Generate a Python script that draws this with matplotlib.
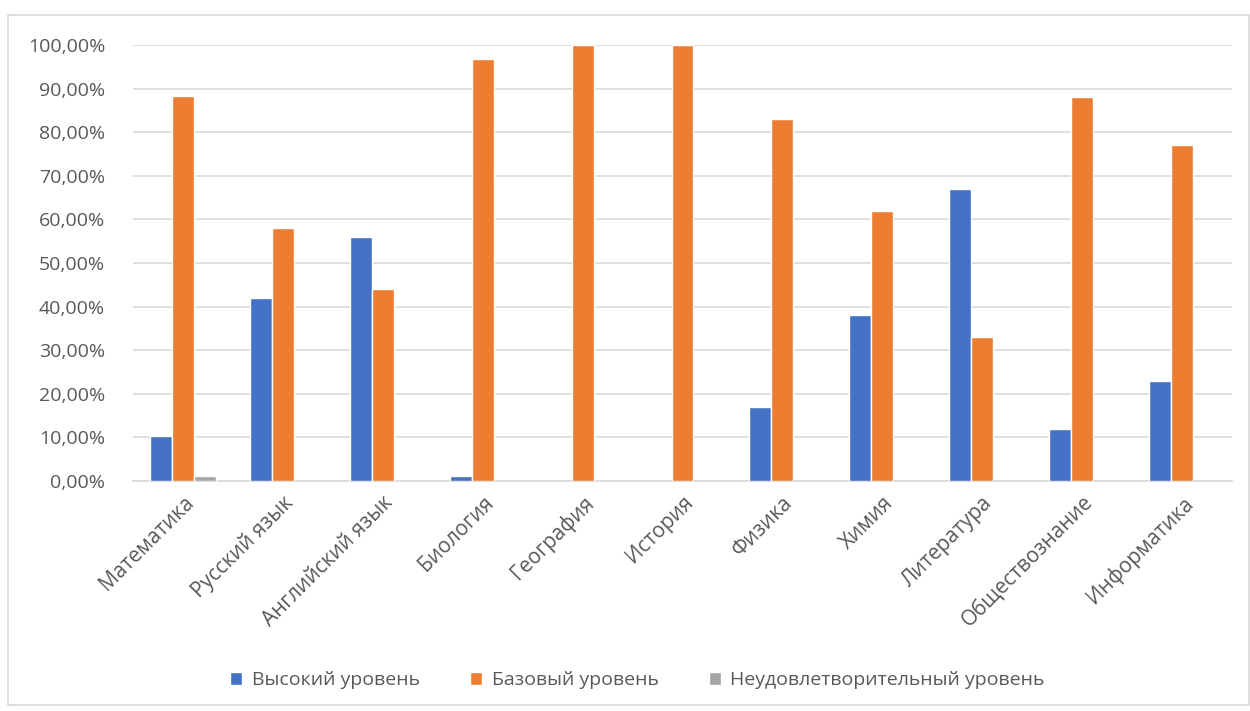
import numpy as np
import matplotlib
matplotlib.use('Agg')
import matplotlib.pyplot as plt
from matplotlib.patches import Rectangle
from matplotlib.ticker import FuncFormatter

plt.rcParams['font.family'] = ['Open Sans', 'DejaVu Sans']

subjects = ['Математика', 'Русский язык', 'Английский язык', 'Биология', 'География',
            'История', 'Физика', 'Химия', 'Литература', 'Обществознание', 'Информатика']
high = [10.3, 42, 56, 1.2, 0, 0, 17, 38, 67, 12, 23]
base = [88.3, 58, 44, 96.8, 100, 100, 83, 62, 33, 88, 77]
fail = [1.2, 0, 0, 0, 0, 0, 0, 0, 0, 0, 0]
series_names = ['Высокий уровень', 'Базовый уровень', 'Неудовлетворительный уровень']
colors = ['#4472C4', '#ED7D31', '#A5A5A5']

fig = plt.figure(figsize=(12.5, 7.11), dpi=100)
ax = fig.add_axes([133 / 1250, 0.3235, 1099 / 1250, 0.6132])

# outer chart border
fig.patches.append(Rectangle((8 / 1250, 6 / 711), 1 - 9 / 1250, 1 - 21 / 711,
                             transform=fig.transFigure, fill=False,
                             edgecolor='#D9D9D9', linewidth=1.2))

x = np.arange(len(subjects))
w = 0.22
for i, (vals, name, c) in enumerate(zip([high, base, fail], series_names, colors)):
    v = np.array(vals) / 100
    bars = ax.bar(x + (i - 1) * w, v, width=w, color=c,
                  edgecolor='white', linewidth=1.0, label=name, zorder=3)
    for b, val in zip(bars, v):
        if val == 0:
            b.set_visible(False)

ax.set_xlim(-0.5, len(subjects) - 0.5)
ax.set_ylim(0, 1.0)
ax.set_yticks(np.arange(0, 1.01, 0.1))
ax.yaxis.set_major_formatter(FuncFormatter(lambda v, p: f'{v * 100:.2f}%'.replace('.', ',')))
ax.grid(axis='y', color='#D9D9D9', linewidth=1.2, zorder=0)
for s in ['top', 'right', 'left']:
    ax.spines[s].set_visible(False)
ax.spines['bottom'].set_color('#D9D9D9')
ax.spines['bottom'].set_linewidth(1.2)
ax.tick_params(axis='both', length=0, labelsize=14, colors='#595959', pad=8)
ax.tick_params(axis='y', pad=20)
ax.tick_params(axis='x', labelsize=15)
ax.set_xticks(x)
ax.set_xticklabels(subjects, rotation=45, ha='right', rotation_mode='anchor')

leg = fig.legend(loc='center', bbox_to_anchor=(0.51, 0.043), ncol=3, frameon=False,
                 fontsize=14, handlelength=0.6, handleheight=0.7, columnspacing=2.6,
                 handletextpad=0.5)
for t in leg.get_texts():
    t.set_color('#595959')

fig.savefig('out.png', dpi=100, facecolor='white')
